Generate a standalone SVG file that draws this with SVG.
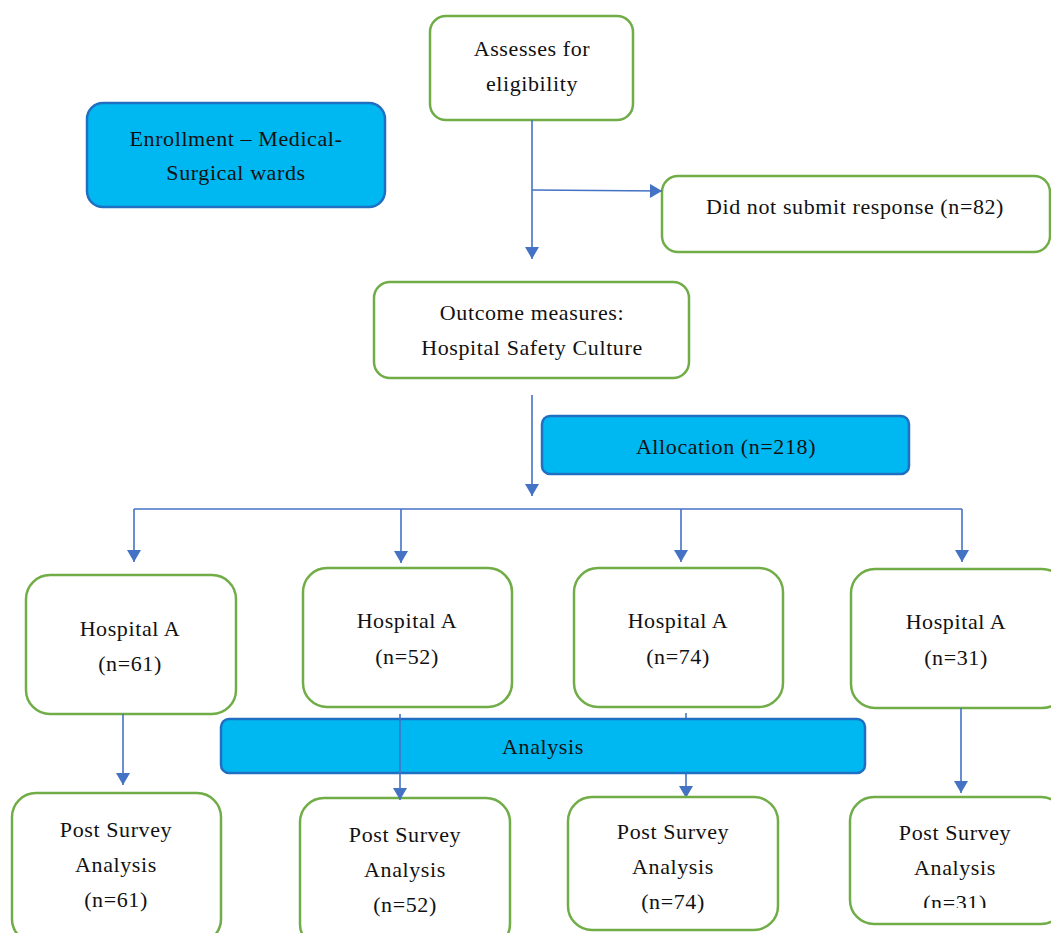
<svg xmlns="http://www.w3.org/2000/svg" width="1051" height="933" viewBox="0 0 1051 933">
<defs>
<marker id="ah" viewBox="0 0 12 14" refX="12" refY="7" markerWidth="13" markerHeight="14" markerUnits="userSpaceOnUse" orient="auto">
<path d="M0,0 L12,7 L0,14 Z" fill="#4472C4"/>
</marker>
<clipPath id="clip4"><rect x="840" y="790" width="220" height="118"/></clipPath>
</defs>
<style>
.g{fill:#fff;stroke:#70AD47;stroke-width:2.5}
.c{fill:#00B8F1;stroke:#1F6FC2;stroke-width:2.5}
.t{font-family:"Liberation Serif","Times New Roman",serif;font-size:22px;letter-spacing:0.6px;fill:#111;text-anchor:middle}
.l{fill:none;stroke:#4472C4;stroke-width:1.6}
.a{marker-end:url(#ah)}
</style>
<rect width="1051" height="933" fill="#fff"/>

<g id="enrollment">
<rect class="c" x="87" y="103" width="298" height="104" rx="16"/>
<text class="t" x="236" y="146">Enrollment – Medical-</text>
<text class="t" x="236" y="180">Surgical wards</text>
</g>
<g id="assesses">
<rect class="g" x="430" y="16" width="203" height="104" rx="16"/>
<text class="t" x="532" y="56">Assesses for</text>
<text class="t" x="532" y="91">eligibility</text>
</g>
<g id="did-not-submit">
<rect class="g" x="662" y="176" width="388" height="76" rx="16"/>
<text class="t" x="855" y="214">Did not submit response (n=82)</text>
</g>
<g id="outcome">
<rect class="g" x="374" y="282" width="315" height="96" rx="16"/>
<text class="t" x="532" y="320">Outcome measures:</text>
<text class="t" x="532" y="355">Hospital Safety Culture</text>
</g>
<g id="allocation">
<rect class="c" x="542" y="416" width="367" height="58" rx="8"/>
<text class="t" x="726" y="454">Allocation (n=218)</text>
</g>

<g id="hospital1">
<rect class="g" x="26" y="575" width="210" height="139" rx="24"/>
<text class="t" x="130" y="636">Hospital A</text>
<text class="t" x="130" y="671">(n=61)</text>
</g>
<g id="hospital2">
<rect class="g" x="303" y="568" width="209" height="139" rx="24"/>
<text class="t" x="407" y="628">Hospital A</text>
<text class="t" x="407" y="664">(n=52)</text>
</g>
<g id="hospital3">
<rect class="g" x="574" y="568" width="209" height="139" rx="24"/>
<text class="t" x="678" y="628">Hospital A</text>
<text class="t" x="678" y="664">(n=74)</text>
</g>
<g id="hospital4">
<rect class="g" x="851" y="569" width="215" height="139" rx="24"/>
<text class="t" x="956" y="629">Hospital A</text>
<text class="t" x="956" y="665">(n=31)</text>
</g>

<g id="connectors-behind">
<line class="l a" x1="686" y1="713" x2="686" y2="798"/>
</g>

<g id="analysis">
<rect class="c" x="221" y="719" width="644" height="54" rx="8"/>
<text class="t" x="543" y="754">Analysis</text>
</g>

<g id="post1">
<rect class="g" x="12" y="793" width="209" height="150" rx="24"/>
<text class="t" x="116" y="837">Post Survey</text>
<text class="t" x="116" y="872">Analysis</text>
<text class="t" x="116" y="907">(n=61)</text>
</g>
<g id="post2">
<rect class="g" x="300" y="798" width="210" height="150" rx="24"/>
<text class="t" x="405" y="842">Post Survey</text>
<text class="t" x="405" y="877">Analysis</text>
<text class="t" x="405" y="912">(n=52)</text>
</g>
<g id="post3">
<rect class="g" x="568" y="797" width="210" height="133" rx="24"/>
<text class="t" x="673" y="839">Post Survey</text>
<text class="t" x="673" y="874">Analysis</text>
<text class="t" x="673" y="909">(n=74)</text>
</g>
<g id="post4">
<rect class="g" x="850" y="797" width="215" height="127" rx="24"/>
<text class="t" x="955" y="840">Post Survey</text>
<text class="t" x="955" y="875">Analysis</text>
<text class="t" x="955" y="910" clip-path="url(#clip4)">(n=31)</text>
</g>

<g id="connectors">
<line class="l a" x1="532" y1="120" x2="532" y2="259"/>
<polyline class="l a" points="532,190 662,191"/>
<line class="l a" x1="532" y1="395" x2="532" y2="496"/>
<polyline class="l" points="134,509 962,509"/>
<line class="l a" x1="134" y1="509" x2="134" y2="562"/>
<line class="l a" x1="401" y1="509" x2="401" y2="563"/>
<line class="l a" x1="681" y1="509" x2="681" y2="562"/>
<line class="l a" x1="962" y1="509" x2="962" y2="562"/>
<line class="l a" x1="123" y1="714" x2="123" y2="785"/>
<line class="l a" x1="400" y1="714" x2="400" y2="800"/>
<line class="l a" x1="961" y1="708" x2="961" y2="793"/>
</g>
</svg>
